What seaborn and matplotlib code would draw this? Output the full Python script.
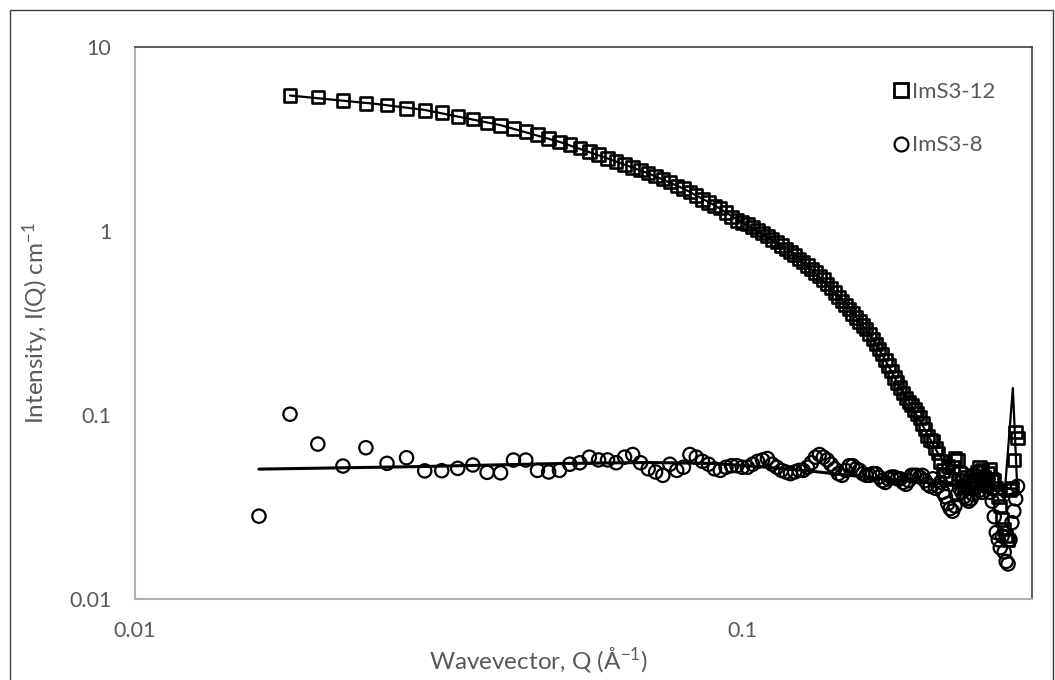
import matplotlib
matplotlib.use("Agg")
import matplotlib.pyplot as plt
from matplotlib.lines import Line2D
from matplotlib.patches import Rectangle
import seaborn as sns

# Scattering vector grid (1/Å) shared by both samples
q = [0.016, 0.018, 0.020, 0.022, 0.024, 0.026, 0.028, 0.030, 0.032, 0.034,
     0.036, 0.038, 0.040, 0.042, 0.044, 0.046, 0.048, 0.050, 0.052, 0.054,
     0.056, 0.058, 0.060, 0.062, 0.064, 0.066, 0.068, 0.070, 0.072, 0.074,
     0.076, 0.078, 0.080, 0.082, 0.084, 0.086, 0.088, 0.090, 0.092, 0.094,
     0.096, 0.098, 0.100, 0.102, 0.104, 0.106, 0.108, 0.110, 0.112, 0.114,
     0.116, 0.118, 0.120, 0.122, 0.124, 0.126, 0.128, 0.130, 0.132, 0.134,
     0.136, 0.138, 0.140, 0.142, 0.144, 0.146, 0.148, 0.150, 0.152, 0.154,
     0.156, 0.158, 0.160, 0.162, 0.164, 0.166, 0.168, 0.170, 0.172, 0.174,
     0.176, 0.178, 0.180, 0.182, 0.184, 0.186, 0.188, 0.190, 0.192, 0.194,
     0.196, 0.198, 0.200, 0.202, 0.204, 0.206, 0.208, 0.210, 0.212, 0.214,
     0.216, 0.218, 0.220, 0.222, 0.224, 0.226, 0.228, 0.230, 0.232, 0.234,
     0.236, 0.238, 0.240, 0.242, 0.244, 0.246, 0.248, 0.250, 0.252, 0.254,
     0.256, 0.258, 0.260, 0.262, 0.264, 0.266, 0.268, 0.270, 0.272, 0.274,
     0.276, 0.278, 0.280, 0.282, 0.284]

# ImS3-12 intensity (cm^-1), measured from Q = 0.018
q_ims3_12 = q[1:]
i_ims3_12 = [5.44, 5.33, 5.11, 4.92, 4.83, 4.62, 4.52, 4.40, 4.20,
             4.06, 3.87, 3.74, 3.60, 3.48, 3.34, 3.18, 3.04, 2.95, 2.82,
             2.71, 2.60, 2.48, 2.38, 2.30, 2.21, 2.14, 2.06, 1.99, 1.92,
             1.84, 1.76, 1.70, 1.63, 1.56, 1.48, 1.43, 1.37, 1.33, 1.26,
             1.19, 1.14, 1.11, 1.095, 1.053, 1.013, 0.975, 0.937, 0.901, 0.870,
             0.835, 0.800, 0.770, 0.740, 0.705, 0.680, 0.650, 0.622, 0.596, 0.570,
             0.545, 0.516, 0.489, 0.463, 0.438, 0.415, 0.395, 0.376, 0.357, 0.339,
             0.322, 0.306, 0.293, 0.276, 0.259, 0.243, 0.229, 0.214, 0.199, 0.186,
             0.173, 0.160, 0.150, 0.141, 0.132, 0.124, 0.118, 0.113, 0.107, 0.102,
             0.097, 0.090, 0.084, 0.077, 0.073, 0.072, 0.066, 0.062, 0.056, 0.050,
             0.047, 0.053, 0.045, 0.052, 0.058, 0.057, 0.048, 0.044, 0.041, 0.046,
             0.043, 0.040, 0.047, 0.044, 0.049, 0.052, 0.050, 0.046, 0.042, 0.048,
             0.051, 0.045, 0.044, 0.040, 0.036, 0.032, 0.027, 0.024, 0.022, 0.021,
             0.039, 0.040, 0.057, 0.081, 0.075]

# ImS3-8 intensity (cm^-1)
q_ims3_8 = q
i_ims3_8 = [0.0282, 0.101, 0.0695, 0.0528, 0.0664, 0.0546, 0.0586, 0.0497, 0.0498, 0.0513,
            0.0535, 0.0488, 0.0485, 0.0569, 0.0569, 0.050, 0.049, 0.050, 0.054, 0.055,
            0.059, 0.057, 0.057, 0.055, 0.059, 0.061, 0.055, 0.051, 0.049, 0.047,
            0.054, 0.050, 0.052, 0.061, 0.059, 0.056, 0.054, 0.051, 0.050, 0.052,
            0.053, 0.053, 0.052, 0.052, 0.054, 0.056, 0.057, 0.058, 0.054, 0.052,
            0.050, 0.049, 0.048, 0.049, 0.050, 0.050, 0.052, 0.055, 0.059, 0.061,
            0.059, 0.057, 0.054, 0.051, 0.048, 0.047, 0.050, 0.053, 0.053, 0.051,
            0.050, 0.048, 0.047, 0.047, 0.048, 0.048, 0.046, 0.044, 0.043, 0.045,
            0.046, 0.046, 0.045, 0.045, 0.043, 0.042, 0.044, 0.047, 0.047, 0.047,
            0.046, 0.047, 0.044, 0.042, 0.041, 0.045, 0.040, 0.041, 0.043, 0.038,
            0.036, 0.033, 0.031, 0.030, 0.032, 0.037, 0.040, 0.038, 0.036, 0.035,
            0.034, 0.035, 0.037, 0.040, 0.043, 0.039, 0.038, 0.043, 0.046, 0.041,
            0.038, 0.034, 0.028, 0.023, 0.021, 0.019, 0.022, 0.018, 0.016, 0.0155,
            0.021, 0.026, 0.030, 0.035, 0.041]

# Model fits
q_fit_12 = [0.018, 0.025, 0.030, 0.040, 0.050, 0.060, 0.070, 0.080, 0.090, 0.100,
            0.110, 0.120, 0.130, 0.140, 0.150, 0.160, 0.170, 0.180, 0.190, 0.200,
            0.210, 0.220, 0.230, 0.240, 0.250, 0.260, 0.270, 0.279, 0.284]
i_fit_12 = [5.45, 4.90, 4.55, 3.76, 3.05, 2.48, 2.06, 1.70, 1.38, 1.11,
            0.93, 0.77, 0.62, 0.49, 0.378, 0.290, 0.213, 0.151, 0.112, 0.083,
            0.062, 0.050, 0.045, 0.043, 0.042, 0.040, 0.035, 0.140, 0.037]

q_fit_8 = [0.016, 0.030, 0.050, 0.070, 0.090, 0.110, 0.130, 0.150, 0.170,
           0.190, 0.210, 0.230, 0.250, 0.270, 0.284]
i_fit_8 = [0.0508, 0.0525, 0.0545, 0.0552, 0.0545, 0.0520, 0.0495, 0.0470, 0.0450,
           0.0435, 0.0425, 0.0415, 0.0405, 0.0400, 0.0395]

labels = ["ImS3-12", "ImS3-8"]
x_ticks = [0.01, 0.1]
x_tick_labels = ["0.01", "0.1"]
y_ticks = [0.01, 0.1, 1, 10]
y_tick_labels = ["0.01", "0.1", "1", "10"]

TEXT = "#595959"

sns.set_theme(style="white")
plt.rcParams["font.family"] = ["Lato", "DejaVu Sans"]
plt.rcParams["mathtext.default"] = "regular"

fig = plt.figure(figsize=(10.55, 6.8), dpi=100)
ax = fig.add_axes([135 / 1055, 81 / 680, 897 / 1055, 552 / 680])

# fitted curves
sns.lineplot(x=q_fit_12, y=i_fit_12, ax=ax, color="black", lw=1.6, sort=False,
             estimator=None, zorder=2)
sns.lineplot(x=q_fit_8, y=i_fit_8, ax=ax, color="black", lw=2.2, sort=False,
             estimator=None, zorder=2)

# measured data, open markers
sns.scatterplot(x=q_ims3_12, y=i_ims3_12, ax=ax, marker="s", s=80,
                facecolor="none", edgecolor="black", linewidth=1.9, zorder=3)
sns.scatterplot(x=q_ims3_8, y=i_ims3_8, ax=ax, marker="o", s=92,
                facecolor="none", edgecolor="black", linewidth=1.6, zorder=3)

ax.set_xscale("log")
ax.set_yscale("log")
ax.set_xlim(0.01, 0.3)
ax.set_ylim(0.01, 10)
ax.set_xticks(x_ticks)
ax.set_xticklabels(x_tick_labels)
ax.set_yticks(y_ticks)
ax.set_yticklabels(y_tick_labels)
ax.minorticks_off()
ax.tick_params(axis="both", length=0, labelsize=15.5, labelcolor=TEXT)
ax.tick_params(axis="x", pad=16)
ax.tick_params(axis="y", pad=17)
ax.set_xlabel("")
ax.set_ylabel("")

for side in ("left", "bottom"):
    ax.spines[side].set_color("#b0b0b0")
    ax.spines[side].set_linewidth(1.5)
for side in ("top", "right"):
    ax.spines[side].set_color("#404040")
    ax.spines[side].set_linewidth(1.2)

fig.text(538 / 1055, 1 - 659 / 680, "Wavevector, Q (Å$^{-1}$)", ha="center",
         va="center", fontsize=17.5, color=TEXT)
fig.text(36 / 1055, 1 - 323 / 680, "Intensity, I(Q) cm$^{-1}$", ha="center",
         va="center", rotation=90, fontsize=17.5, color=TEXT)

handles = [
    Line2D([], [], marker="s", ls="none", markersize=9.5, markerfacecolor="none",
           markeredgecolor="black", markeredgewidth=2.0),
    Line2D([], [], marker="o", ls="none", markersize=10, markerfacecolor="none",
           markeredgecolor="black", markeredgewidth=1.6),
]
leg = ax.legend(handles, labels, loc="upper left",
                bbox_to_anchor=(894 / 1055, 1 - 82 / 680),
                bbox_transform=fig.transFigure, frameon=False, fontsize=16,
                handlelength=0.6, handletextpad=0.2, labelspacing=1.5,
                borderpad=0, borderaxespad=0)
for t in leg.get_texts():
    t.set_color(TEXT)

# chart frame
fig.patches.append(Rectangle((10 / 1055, -0.05), 1043 / 1055, 1.05 - 10 / 680,
                             transform=fig.transFigure, fill=False,
                             edgecolor="#404040", linewidth=1.0))

fig.savefig("out.png", dpi=100)
